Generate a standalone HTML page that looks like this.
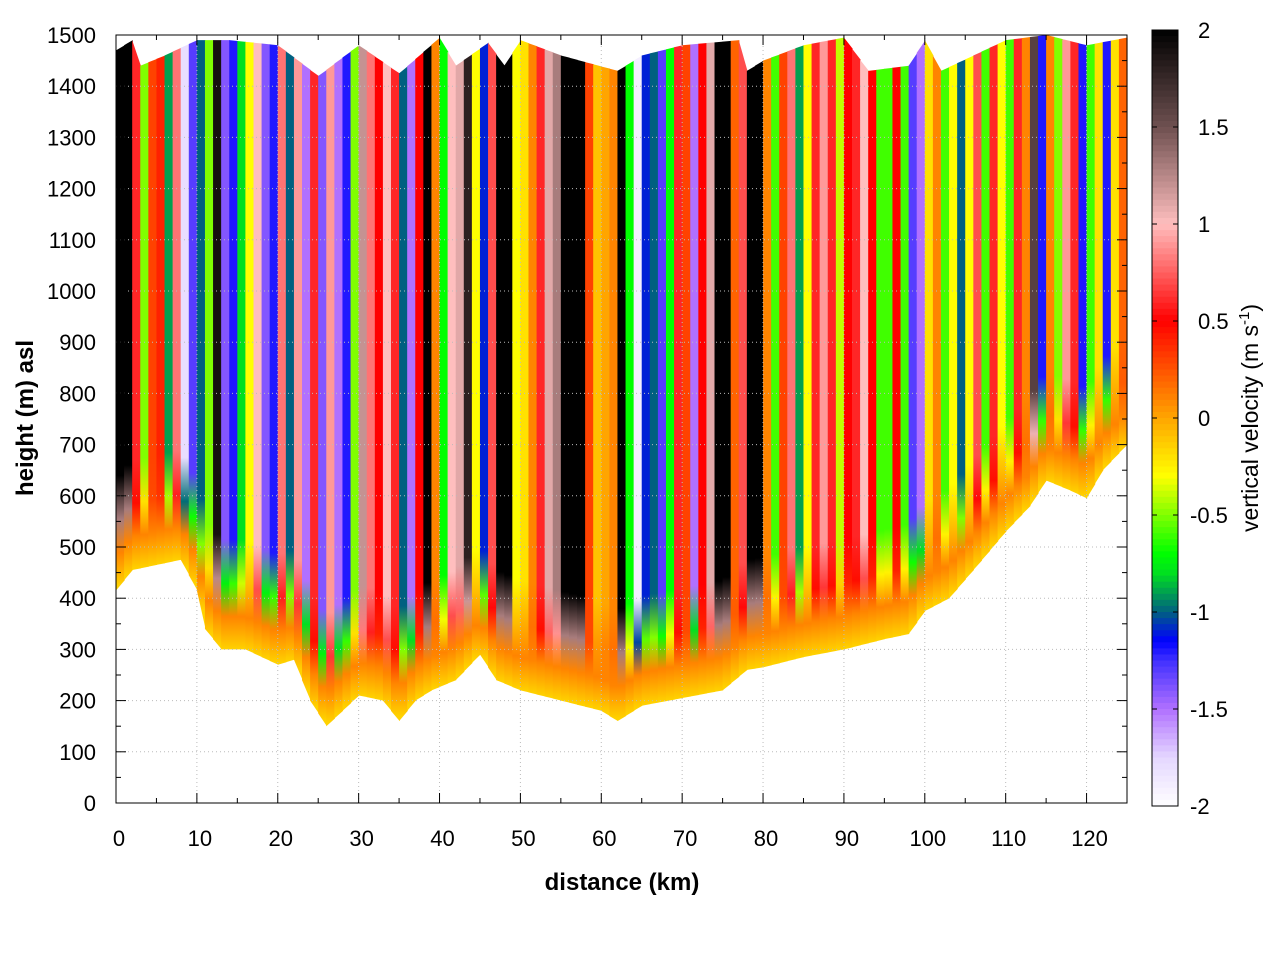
<!DOCTYPE html>
<html><head><meta charset="utf-8"><style>
body{margin:0;background:#fff;}
svg text{font-family:"Liberation Sans",sans-serif;}
</style></head><body>
<svg id="chart" width="1280" height="960" xmlns="http://www.w3.org/2000/svg">
<defs id="defs"></defs>
<g id="plot"></g>
<g id="axes"></g>
<g id="cbar"></g>
<text x="622" y="890" font-size="24" font-weight="bold" text-anchor="middle">distance (km)</text>
<text transform="translate(33,418) rotate(-90)" font-size="24" font-weight="bold" text-anchor="middle">height (m) asl</text>
<text transform="translate(1258,418) rotate(-90)" font-size="23" text-anchor="middle">vertical velocity (m s<tspan dy="-9" font-size="15">-1</tspan><tspan dy="9">)</tspan></text>
</svg>
<script>
// column velocities per 1-km bin (0..124 km)
const colVel=[2,2,0.6,-0.5,0.3,0.4,-0.9,0.8,-1.8,-1.3,-1.0,-0.5,1.9,-1.4,-1.2,-0.8,-0.3,1.0,-1.4,-1.2,0.8,-1.0,0.9,-1.5,0.6,-1.4,0.9,-1.5,-1.2,-0.5,1.2,
0.8,0.5,1.0,0.6,-1.0,-1.5,0.5,2,0.1,-0.7,1.0,1.1,1.8,-0.3,-1.1,0.7,2,2,-0.3,-0.2,0.1,0.6,1.1,1.3,2,2,2,0.3,-0.1,0,0.1,2,
-0.7,-1.9,-1.1,-1.0,-1.3,-0.7,0.6,0.3,-1.5,0.5,1.1,2,2,0.2,0.7,2,2,0.1,-0.6,0.3,0.8,-0.9,-0.3,0.6,0.9,0.6,-0.4,0.5,0.6,1.0,0.5,
-0.6,-0.6,0.5,-0.6,-1.3,-1.5,-0.2,0.1,-0.6,-0.3,-1.0,-0.3,0.7,-0.6,0.6,-0.3,-0.6,0.6,0.1,1.6,-1.2,0.1,-0.5,0.9,0.6,-1.2,-0.6,-0.2,-1.2,-0.2,0.2];
const terrainKm=[0,2,5,8,10,11,13,16,20,22,24,26,28,30,33,35,37,39,42,45,47,50,55,60,62,65,70,75,78,80,85,90,95,98,100,103,106,110,113,115,118,120,122,125];
const terrainM=[415,455,465,475,415,340,300,300,270,280,200,150,180,210,200,160,200,220,240,290,240,220,200,180,160,190,205,220,260,265,285,300,320,330,375,400,455,530,580,630,610,595,650,700];
const topKm=[0,2,3,6,10,14,20,25,30,35,40,42,46,48,50,55,62,65,70,77,78,80,85,90,93,98,100,102,110,115,120,125];
const topM=[1470,1490,1440,1460,1490,1490,1480,1420,1480,1425,1495,1440,1485,1440,1490,1460,1430,1460,1480,1490,1430,1450,1480,1495,1430,1440,1490,1430,1490,1500,1480,1495];
const yTicks=[0,100,200,300,400,500,600,700,800,900,1000,1100,1200,1300,1400,1500];
const xTicks=[0,10,20,30,40,50,60,70,80,90,100,110,120];
const cbTicks=[2,1.5,1,0.5,0,-0.5,-1,-1.5,-2];

const X0=116,X1=1127,Y0=803,Y1=35;
const sx=k=>X0+(X1-X0)*k/125;
const sy=m=>Y0-(Y0-Y1)*m/1500;
const NS='http://www.w3.org/2000/svg';
function mk(t,a,p){const e=document.createElementNS(NS,t);for(const k in a)e.setAttribute(k,a[k]);p.appendChild(e);return e;}
function interp(xs,ys,x){for(let i=0;i<xs.length-1;i++){if(x<=xs[i+1]){const t=(x-xs[i])/(xs[i+1]-xs[i]);return ys[i]+t*(ys[i+1]-ys[i]);}}return ys[ys.length-1];}
const cmap=[[-2,[255,255,255]],[-1.75,[228,214,255]],[-1.5,[176,112,255]],[-1.25,[64,48,255]],[-1.15,[0,0,255]],[-1,[0,96,128]],[-0.8,[0,224,32]],[-0.7,[0,255,0]],[-0.5,[128,255,0]],[-0.3,[255,255,0]],[0,[255,165,0]],[0.5,[255,0,0]],[0.75,[255,96,96]],[1,[255,190,190]],[1.5,[110,80,80]],[2,[0,0,0]]];
function col(v){v=Math.max(-2,Math.min(2,v));for(let i=0;i<cmap.length-1;i++){if(v<=cmap[i+1][0]){const t=(v-cmap[i][0])/(cmap[i+1][0]-cmap[i][0]);const a=cmap[i][1],b=cmap[i+1][1];return 'rgb('+a.map((c,j)=>Math.round(c+t*(b[j]-c))).join(',')+')';}}return 'rgb(0,0,0)';}

const defs=document.getElementById('defs'),plot=document.getElementById('plot'),axes=document.getElementById('axes'),cbar=document.getElementById('cbar');
colVel.forEach((v,i)=>{
  const k0=i,k1=(i===colVel.length-1)?125:i+1,km=(k0+k1)/2;
  const xa=sx(k0),xb=sx(k1)+0.6;
  const yb0=sy(interp(terrainKm,terrainM,k0)),yb1=sy(interp(terrainKm,terrainM,k1));
  const yt0=sy(interp(topKm,topM,k0)),yt1=sy(interp(topKm,topM,k1));
  const yb=(yb0+yb1)/2;
  const g=mk('linearGradient',{id:'g'+i,gradientUnits:'userSpaceOnUse',x1:0,x2:0,y1:yb-110,y2:yb},defs);
  mk('stop',{offset:0,'stop-color':col(v)},g);
  mk('stop',{offset:0.4,'stop-color':col(v*0.6+0.1)},g);
  mk('stop',{offset:0.7,'stop-color':col(0.1)},g);
  mk('stop',{offset:1,'stop-color':col(-0.15)},g);
  const r=mk('path',{d:`M${xa},${yt0}L${xb},${yt1}L${xb},${yb1}L${xa},${yb0}Z`,fill:'url(#g'+i+')'},plot);
  
  
});
// grid
yTicks.forEach(t=>{const y=sy(t);
  if(t>0&&t<1500){const l=mk('line',{x1:X0,x2:X1,y1:y,y2:y,stroke:'#bbb','stroke-dasharray':'1,3','stroke-width':1},axes);}
  mk('line',{x1:X0,x2:X0+10,y1:y,y2:y,stroke:'#000'},axes);mk('line',{x1:X1-10,x2:X1,y1:y,y2:y,stroke:'#000'},axes);
  if(t<1500){const ym=sy(t+50);mk('line',{x1:X0,x2:X0+5,y1:ym,y2:ym,stroke:'#000'},axes);mk('line',{x1:X1-5,x2:X1,y1:ym,y2:ym,stroke:'#000'},axes);}
  const tx=mk('text',{x:96,y:y+8,'font-size':22,'text-anchor':'end'},axes);tx.textContent=t;
  });
xTicks.forEach(t=>{const x=sx(t);
  if(t>0){const l=mk('line',{x1:x,x2:x,y1:Y0,y2:Y1,stroke:'#bbb','stroke-dasharray':'1,3'},axes);}
  mk('line',{x1:x,x2:x,y1:Y0,y2:Y0-10,stroke:'#000'},axes);mk('line',{x1:x,x2:x,y1:Y1,y2:Y1+10,stroke:'#000'},axes);
  const xm=sx(t+5);mk('line',{x1:xm,x2:xm,y1:Y0,y2:Y0-5,stroke:'#000'},axes);mk('line',{x1:xm,x2:xm,y1:Y1,y2:Y1+5,stroke:'#000'},axes);
  const tx=mk('text',{x:x+3,y:846,'font-size':22,'text-anchor':'middle'},axes);tx.textContent=t;
  });
const fr=mk('rect',{x:X0,y:Y1,width:X1-X0,height:Y0-Y1,fill:'none',stroke:'#000','stroke-width':1},axes);

// colorbar
const CX=1152,CW=26,CT=30,CB=806,N=128;
for(let i=0;i<N;i++){const v0=2-4*i/N;const y=CT+(CB-CT)*i/N;
  mk('rect',{x:CX,y:y,width:CW,height:(CB-CT)/N+0.6,fill:col(v0-2/N)},cbar);}
mk('rect',{x:CX,y:CT,width:CW,height:CB-CT,fill:'none',stroke:'#000'},cbar);
cbTicks.forEach(t=>{const y=CT+(CB-CT)*(2-t)/4;
  mk('line',{x1:CX,x2:CX+5,y1:y,y2:y,stroke:'#000'},cbar);mk('line',{x1:CX+CW-5,x2:CX+CW,y1:y,y2:y,stroke:'#000'},cbar);
  const tx=mk('text',{x:t<0?1190:1198,y:y+8,'font-size':22},cbar);tx.textContent=t;
  });
</script>
</body></html>
